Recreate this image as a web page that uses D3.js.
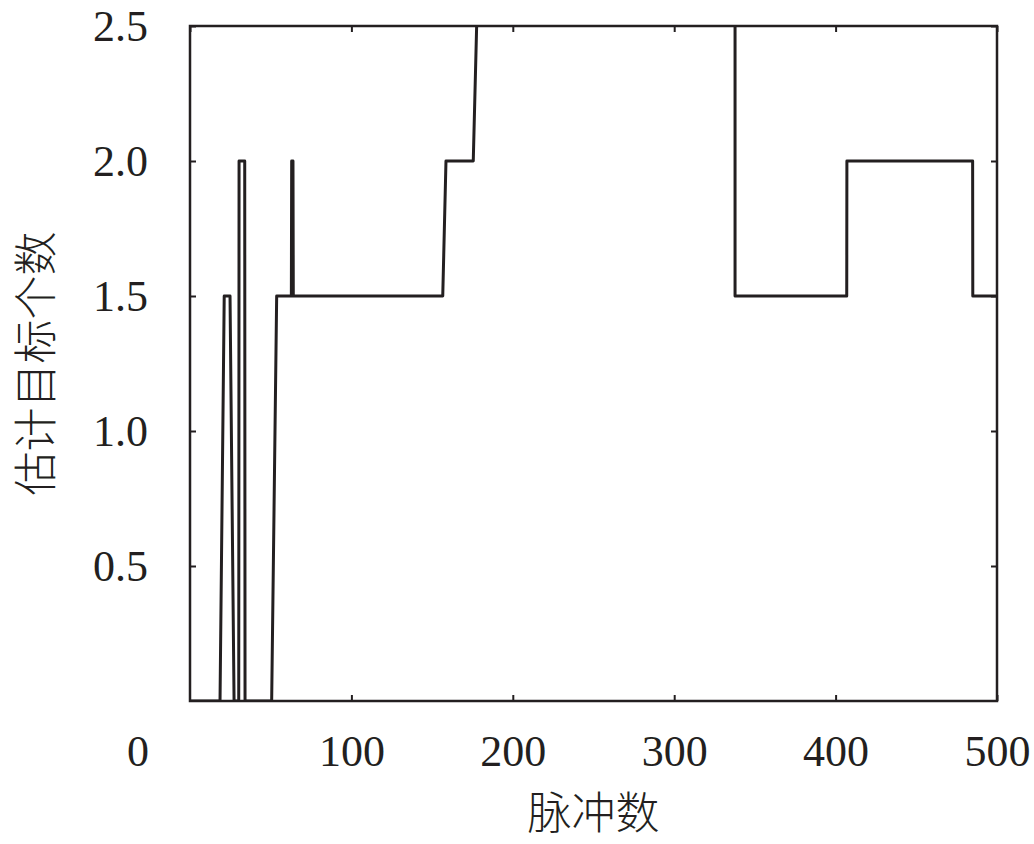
<!DOCTYPE html>
<html>
<head>
<meta charset="utf-8">
<script src="https://cdn.jsdelivr.net/npm/d3@7/dist/d3.min.js"></script>
<style>
  html, body { margin: 0; padding: 0; background: #fff; }
  svg { display: block; }
  .tick text { font-family: "Liberation Serif", "DejaVu Serif", serif; font-size: 44px; fill: #231f20; }
  .axis-title { font-family: "Noto Sans CJK SC", sans-serif; font-size: 44px; fill: #231f20; font-weight: 300; }
</style>
</head>
<body>
<svg id="chart" width="1034" height="844"></svg>
<script>
// ---- data ----
const pulses    = [0, 18.6, 21.2, 24.8, 27.3, 30.2, 30.4, 33.9, 34.1, 50.6, 53.7, 62.8, 63.0, 63.8, 64.0, 156.6, 158.6, 175.5, 179.7, 337.7, 337.7, 406.9, 407.0, 484.9, 485.0, 500];
const estimates = [0,    0,  1.5,  1.5,    0,    0,    2,    2,    0,    0,  1.5,  1.5,    2,    2,  1.5,   1.5,     2,     2,     3,     3,   1.5,   1.5,     2,     2,   1.5, 1.5];
const xTicks = [0, 100, 200, 300, 400, 500];
const yTicks = [0.5, 1.0, 1.5, 2.0, 2.5];
const xTitle = "脉冲数";
const yTitle = "估计目标个数";

const ink = "#231f20";
const svg = d3.select("#chart");
const L = 190, R = 997, T = 26, B = 701;
const x = d3.scaleLinear().domain([0, 500]).range([L, R]);
const y = d3.scaleLinear().domain([0, 2.5]).range([B, T]);

svg.append("clipPath").attr("id", "plotclip")
  .append("rect").attr("x", L).attr("y", T).attr("width", R - L).attr("height", B - T);

// data line
const pts = pulses.map((p, i) => [p, estimates[i]]);
svg.append("path")
  .datum(pts)
  .attr("clip-path", "url(#plotclip)")
  .attr("fill", "none")
  .attr("stroke", ink)
  .attr("stroke-width", 3)
  .attr("stroke-linejoin", "round")
  .attr("d", d3.line().x(d => x(d[0])).y(d => y(d[1])));

// axes (inward ticks)
const gB = svg.append("g").attr("transform", `translate(0,${B})`)
  .call(d3.axisBottom(x).tickValues(xTicks.filter(v => v > 0)).tickSize(-6).tickPadding(34).tickFormat(d3.format("d")));
const gL = svg.append("g").attr("transform", `translate(${L},0)`)
  .call(d3.axisLeft(y).tickValues(yTicks).tickSize(-6).tickPadding(42).tickFormat(d3.format(".1f")));
const gT = svg.append("g").attr("transform", `translate(0,${T})`)
  .call(d3.axisTop(x).tickValues(xTicks).tickSize(-6).tickFormat(""));
const gR = svg.append("g").attr("transform", `translate(${R},0)`)
  .call(d3.axisRight(y).tickValues(yTicks).tickSize(-6).tickFormat(""));
[gB, gL, gT, gR].forEach(g => {
  g.select(".domain").remove();
  g.selectAll(".tick line").attr("stroke", ink).attr("stroke-width", 2);
  g.attr("font-family", null).attr("font-size", null);
});

// origin label "0", offset left of the corner as in reference
svg.append("text")
  .attr("class", "tick-origin")
  .attr("x", x(xTicks[0]) - 52)
  .attr("y", B + 34)
  .attr("dy", "0.71em")
  .attr("text-anchor", "middle")
  .style("font-family", '"Liberation Serif", "DejaVu Serif", serif')
  .style("font-size", "44px")
  .attr("fill", ink)
  .text(xTicks[0]);

// frame
svg.append("rect")
  .attr("x", L).attr("y", T).attr("width", R - L).attr("height", B - T)
  .attr("fill", "none").attr("stroke", ink).attr("stroke-width", 2.5);

// titles
svg.append("text").attr("class", "axis-title")
  .attr("x", (L + R) / 2).attr("y", 829)
  .attr("text-anchor", "middle")
  .text(xTitle);
svg.append("text").attr("class", "axis-title")
  .attr("transform", `translate(52,${(T + B) / 2}) rotate(-90)`)
  .attr("text-anchor", "middle")
  .text(yTitle);
</script>
</body>
</html>
